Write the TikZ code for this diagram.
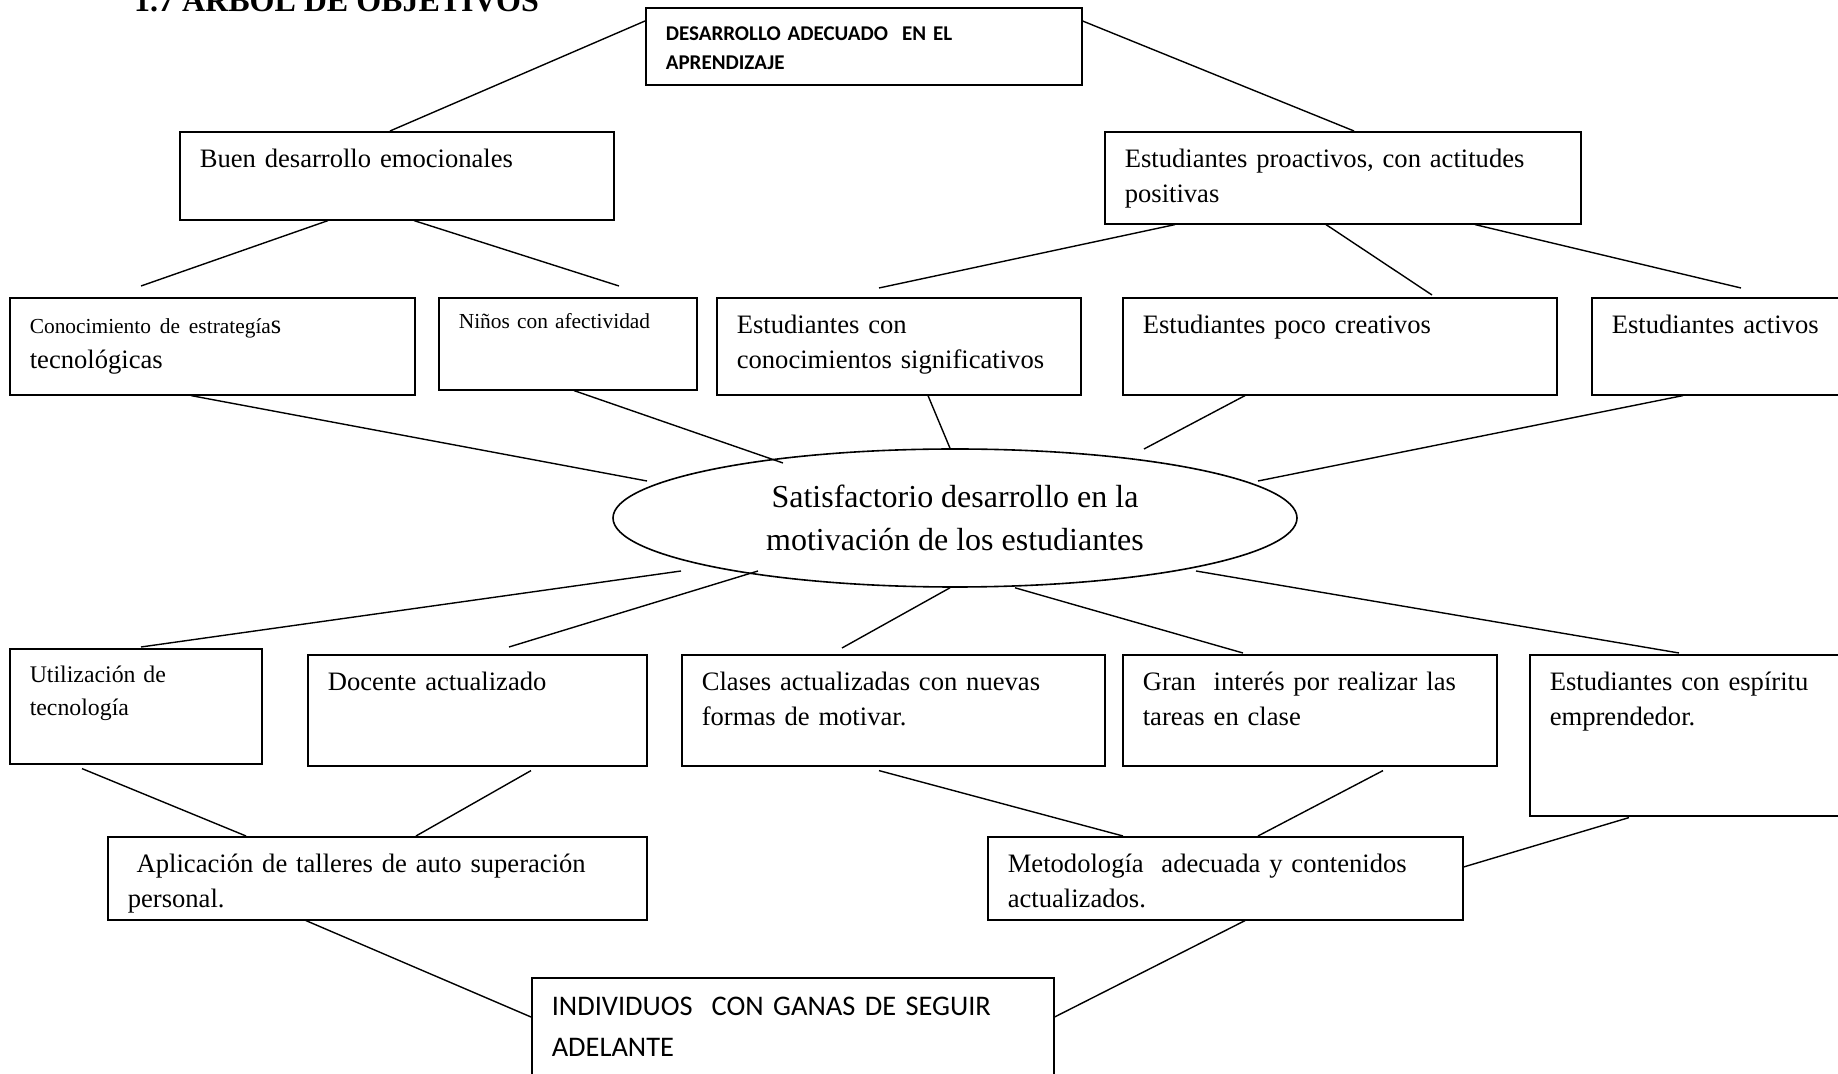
\documentclass[tikz,border=0pt]{standalone}
\usepackage{fontspec}
\setmainfont{Liberation Serif}
\newfontfamily\calibri{Carlito}
\usetikzlibrary{calc,shapes.geometric}
\tikzset{
  caja/.style 2 args={draw, line width=0.8pt, anchor=north west, align=left,
    inner xsep=10pt, inner ysep=0pt, text width=#1*0.5pt-20pt,
    text height=18pt, text depth=#2*0.5pt-18pt,
    font=\fontsize{13.3}{17.5}\selectfont},
  chico/.style={font=\fontsize{10.7}{17}\selectfont},
  globo/.style={draw, ellipse, line width=0.8pt, minimum width=342pt,
    minimum height=69pt, inner sep=0pt, align=center,
    font=\fontsize{16}{21.7}\selectfont},
  rama/.style={line width=0.7pt},
}
\begin{document}
\begin{tikzpicture}[x=0.5pt,y=-0.5pt]
  \useasboundingbox (0,0) rectangle (1838,1074);
  \node[anchor=base west, font=\bfseries\fontsize{16}{19}\selectfont] (titulo) at (127,12) {1.7 ÁRBOL DE OBJETIVOS};

  \node[caja={436}{80}, text height=16.5pt, font=\calibri\bfseries\fontsize{10.5}{14.5}\selectfont] (aprend) at (645,7) {DESARROLLO ADECUADO\ \ EN EL\\APRENDIZAJE};
  \node[caja={434}{88}] (buen) at (179,131) {Buen desarrollo emocionales};
  \node[caja={476}{92}] (proac) at (1104,131) {Estudiantes proactivos, con actitudes\\positivas};

  \node[caja={405}{97}] (conoc) at (9,297) {{\fontsize{10.7}{13}\selectfont Conocimiento de estrategía}s\\tecnológicas};
  \node[caja={258}{97}, chico, text height=15.5pt] (ninos) at (438,297) {Niños con afectividad};
  \node[caja={364}{97}] (signif) at (716,297) {Estudiantes con\\conocimientos significativos};
  \node[caja={434}{97}] (creat) at (1122,297) {Estudiantes poco creativos};
  \node[caja={300}{97}] (activ) at (1591,297) {Estudiantes activos};

  \node[globo] (motiv) at (955,518) {Satisfactorio desarrollo en la\\motivación de los estudiantes};

  \node[caja={252}{117}, text height=17pt, font=\fontsize{11.9}{16.5}\selectfont] (util) at (9,648) {Utilización de\\tecnología};
  \node[caja={339}{111}] (docente) at (307,654) {Docente actualizado};
  \node[caja={423}{111}] (clases) at (681,654) {Clases actualizadas con nuevas\\formas de motivar.};
  \node[caja={374}{111}] (gran) at (1122,654) {Gran\ \ interés por realizar las\\tareas en clase};
  \node[caja={340}{161}] (espir) at (1529,654) {Estudiantes con espíritu\\emprendedor.};

  \node[caja={539}{83}] (aplic) at (107,836) {~Aplicación de talleres de auto superación\\personal.};
  \node[caja={475}{83}] (metod) at (987,836) {Metodología\ \ adecuada y contenidos\\actualizados.};

  \node[caja={522}{130}, text height=19pt, font=\calibri\fontsize{14.2}{20.5}\selectfont] (indiv) at (531,977) {INDIVIDUOS\ \ CON GANAS DE SEGUIR\\ADELANTE};

  \draw[rama] ($(aprend.north west)+(0,14)$) -- ($(buen.north west)+(211,0)$);
  \draw[rama] ($(aprend.north east)+(0,14)$) -- ($(proac.north west)+(250,0)$);
  \draw[rama] ($(buen.south west)+(149,0)$) -- ($(conoc.north west)+(132,-11)$);
  \draw[rama] ($(buen.south west)+(235,0)$) -- ($(ninos.north west)+(181,-11)$);
  \draw[rama] ($(proac.south west)+(71,0)$) -- ($(signif.north west)+(163,-9)$);
  \draw[rama] ($(proac.south west)+(222,0)$) -- ($(creat.north west)+(310,-2)$);
  \draw[rama] ($(proac.south west)+(371,0)$) -- ($(activ.north west)+(150,-9)$);

  \draw[rama] ($(conoc.south west)+(182,0)$) -- ($(motiv.center)+(-308,-37)$);
  \draw[rama] ($(ninos.south west)+(136,0)$) -- ($(motiv.center)+(-172,-55)$);
  \draw[rama] ($(signif.south west)+(212,0)$) -- ($(motiv.north)+(-5,0)$);
  \draw[rama] ($(creat.south west)+(123,0)$) -- ($(motiv.center)+(189,-69)$);
  \draw[rama] ($(activ.south west)+(92,0)$) -- ($(motiv.center)+(303,-37)$);

  \draw[rama] ($(motiv.center)+(-274,53)$) -- ($(util.north west)+(132,-1)$);
  \draw[rama] ($(motiv.center)+(-197,53)$) -- ($(docente.north west)+(202,-7)$);
  \draw[rama] ($(motiv.south)+(-5,0)$) -- ($(clases.north west)+(161,-6)$);
  \draw[rama] ($(motiv.south)+(60,0)$) -- ($(gran.north west)+(121,-1)$);
  \draw[rama] ($(motiv.center)+(241,53)$) -- ($(espir.north west)+(150,-1)$);

  \draw[rama] ($(util.south west)+(73,4)$) -- ($(aplic.north west)+(139,0)$);
  \draw[rama] ($(docente.south west)+(224,4)$) -- ($(aplic.north west)+(309,0)$);
  \draw[rama] ($(clases.south west)+(198,4)$) -- ($(metod.north west)+(136,0)$);
  \draw[rama] ($(gran.south west)+(261,4)$) -- ($(metod.north west)+(271,0)$);
  \draw[rama] ($(espir.south west)+(100,1)$) -- ($(metod.north east)+(0,31)$);

  \draw[rama] ($(aplic.south west)+(199,0)$) -- ($(indiv.north west)+(0,40)$);
  \draw[rama] ($(metod.south west)+(258,0)$) -- ($(indiv.north east)+(0,40)$);
\end{tikzpicture}
\end{document}
